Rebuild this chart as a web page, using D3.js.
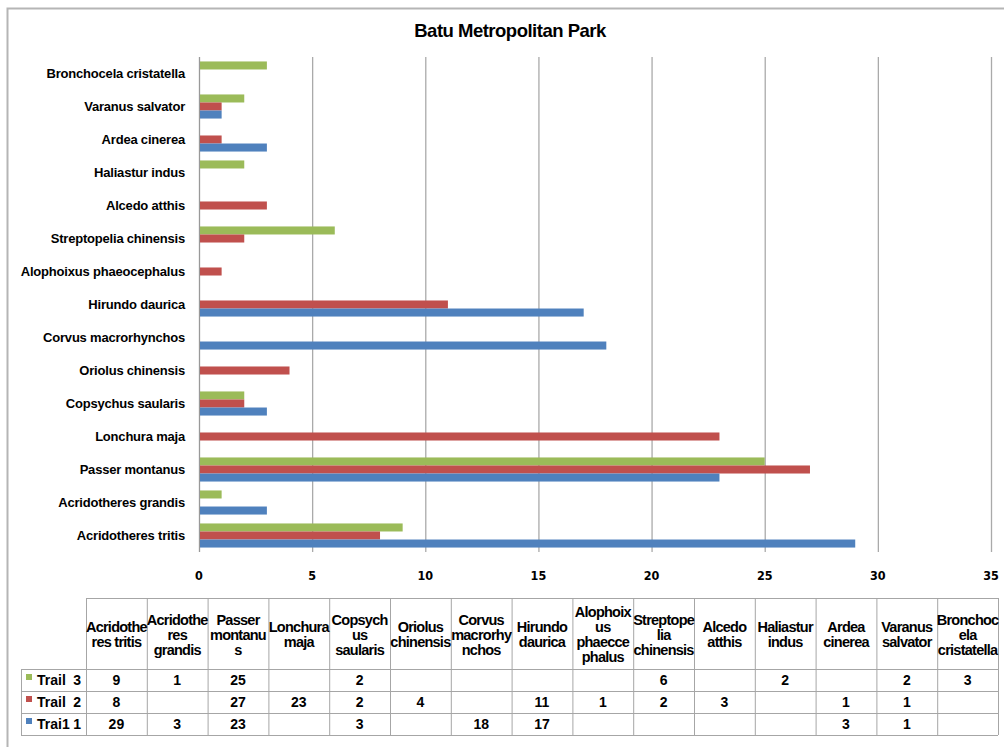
<!DOCTYPE html>
<html>
<head>
<meta charset="utf-8">
<script src="https://cdn.jsdelivr.net/npm/d3@7"></script>
<style>
  body { margin: 0; background: #fff; }
  svg text { font-family: "Liberation Sans", Arial, sans-serif; font-weight: bold; fill: #000; }
</style>
</head>
<body>
<svg></svg>
<script>
// data, in table column order
var categories = ['Acridotheres tritis', 'Acridotheres grandis', 'Passer montanus', 'Lonchura maja',
  'Copsychus saularis', 'Oriolus chinensis', 'Corvus macrorhynchos', 'Hirundo daurica',
  'Alophoixus phaeocephalus', 'Streptopelia chinensis', 'Alcedo atthis', 'Haliastur indus',
  'Ardea cinerea', 'Varanus salvator', 'Bronchocela cristatella'];
var headerLines = [['Acridothe', 'res tritis'], ['Acridothe', 'res', 'grandis'], ['Passer', 'montanu', 's'],
  ['Lonchura', 'maja'], ['Copsych', 'us', 'saularis'], ['Oriolus', 'chinensis'], ['Corvus', 'macrorhy', 'nchos'],
  ['Hirundo', 'daurica'], ['Alophoix', 'us', 'phaecce', 'phalus'], ['Streptope', 'lia', 'chinensis'],
  ['Alcedo', 'atthis'], ['Haliastur', 'indus'], ['Ardea', 'cinerea'], ['Varanus', 'salvator'],
  ['Bronchoc', 'ela', 'cristatella']];
var trail3 = [9, 1, 25, null, 2, null, null, null, null, 6, null, 2, null, 2, 3];
var trail2 = [8, null, 27, 23, 2, 4, null, 11, 1, 2, 3, null, 1, 1, null];
var trail1 = [29, 3, 23, null, 3, null, 18, 17, null, null, null, null, 3, 1, null];
var seriesNames = [['Trail', '3'], ['Trail', '2'], ['Trai1', '1']];
var seriesColors = ['#9BBB59', '#C0504D', '#4F81BD'];
var xTicks = [0, 5, 10, 15, 20, 25, 30, 35];

var series = [trail3, trail2, trail1];
var W = 1004, H = 747;
var svg = d3.select('svg').attr('width', W).attr('height', H);

// outer frame
svg.append('rect')
  .attr('x', 7.5).attr('y', 8.5)
  .attr('width', 1020).attr('height', 760)
  .attr('fill', 'none').attr('stroke', '#b5b5b5').attr('stroke-width', 2);

svg.append('text')
  .attr('x', 510).attr('y', 37)
  .attr('text-anchor', 'middle')
  .style('font-size', '18.5px')
  .style('letter-spacing', '-0.5px')
  .text('Batu Metropolitan Park');

// scales
var x = d3.scaleLinear().domain([0, 35]).range([199, 991]);
var y = d3.scaleBand()
  .domain(categories.slice().reverse())
  .range([57, 552])
  .paddingInner(0.27).paddingOuter(0.135);
var ySub = d3.scaleBand().domain(d3.range(series.length)).range([0, y.bandwidth()]);

// gridlines
svg.append('g').selectAll('line')
  .data(xTicks)
  .enter().append('line')
  .attr('x1', (d) => x(d) + 0.5).attr('x2', (d) => x(d) + 0.5)
  .attr('y1', 57).attr('y2', 552)
  .attr('stroke', (d) => d == 0 ? '#999' : '#aaa')
  .attr('stroke-width', 1.3);

// x tick labels
svg.append('g').selectAll('text')
  .data(xTicks)
  .enter().append('text')
  .attr('x', (d) => x(d)).attr('y', 580)
  .attr('text-anchor', 'middle')
  .style('font-family', '"Liberation Sans Narrow", "DejaVu Sans Condensed", sans-serif')
  .style('font-size', '12.5px')
  .text((d) => d);

// category labels
svg.append('g').selectAll('text')
  .data(categories)
  .enter().append('text')
  .attr('x', 185)
  .attr('y', (d) => y(d) + y.bandwidth() / 2)
  .attr('dy', '.35em')
  .attr('text-anchor', 'end')
  .style('font-size', '13px')
  .style('letter-spacing', '-0.2px')
  .text((d) => d);

// bars
series.forEach(function(values, s){
  svg.append('g').selectAll('rect')
    .data(values.map((v, i) => ({cat: categories[i], v: v})).filter((d) => d.v != null))
    .enter().append('rect')
    .attr('x', x(0) + 1)
    .attr('y', (d) => y(d.cat) + ySub(s))
    .attr('width', (d) => x(d.v) - x(0) - 1)
    .attr('height', ySub.bandwidth())
    .attr('fill', seriesColors[s]);
});

// data table
var tbl = {left: 21, colStart: 86, top: 598, headBottom: 669, rowH: 22};
var col = d3.scaleBand().domain(d3.range(categories.length)).range([tbl.colStart, 998]);
var tableBottom = tbl.headBottom + tbl.rowH * series.length;
var gT = svg.append('g');
var lineColor = '#a6a6a6';

// horizontal lines
gT.append('line').attr('x1', tbl.colStart).attr('x2', 998).attr('y1', tbl.top + 0.5).attr('y2', tbl.top + 0.5)
  .attr('stroke', lineColor);
d3.range(series.length + 1).forEach(function(r){
  var yy = tbl.headBottom + r * tbl.rowH + 0.5;
  gT.append('line').attr('x1', tbl.left).attr('x2', 998).attr('y1', yy).attr('y2', yy)
    .attr('stroke', lineColor);
});
// vertical lines
gT.append('line').attr('x1', tbl.left + 0.5).attr('x2', tbl.left + 0.5)
  .attr('y1', tbl.headBottom).attr('y2', tableBottom).attr('stroke', lineColor);
d3.range(categories.length + 1).forEach(function(c){
  var xx = (c < categories.length ? col(c) : 998) + 0.5;
  gT.append('line').attr('x1', xx).attr('x2', xx)
    .attr('y1', tbl.top).attr('y2', tableBottom).attr('stroke', lineColor);
});

// header text
headerLines.forEach(function(lines, c){
  var cx = col(c) + col.bandwidth() / 2;
  var cy = (tbl.top + tbl.headBottom) / 2 + 1;
  var t = gT.append('text')
    .attr('text-anchor', 'middle')
    .style('font-size', '14.5px')
    .style('letter-spacing', '-0.75px');
  lines.forEach(function(l, k){
    t.append('tspan')
      .attr('x', cx)
      .attr('y', cy + (k - (lines.length - 1) / 2) * 15)
      .attr('dy', '.35em')
      .text(l);
  });
});

// rows
series.forEach(function(values, s){
  var cy = tbl.headBottom + s * tbl.rowH + tbl.rowH / 2;
  gT.append('rect')
    .attr('x', 26).attr('y', cy - 6).attr('width', 6).attr('height', 6)
    .attr('fill', seriesColors[s]);
  gT.append('text').attr('x', 37).attr('y', cy).attr('dy', '.35em')
    .style('font-size', '14px').text(seriesNames[s][0]);
  gT.append('text').attr('x', 81).attr('y', cy).attr('dy', '.35em')
    .attr('text-anchor', 'end')
    .style('font-size', '14px').text(seriesNames[s][1]);
  gT.append('g').selectAll('text')
    .data(values)
    .enter().append('text')
    .attr('x', (d, i) => col(i) + col.bandwidth() / 2)
    .attr('y', cy)
    .attr('dy', '.35em')
    .attr('text-anchor', 'middle')
    .style('font-size', '14px')
    .text((d) => d == null ? '' : d);
});
</script>
</body>
</html>
